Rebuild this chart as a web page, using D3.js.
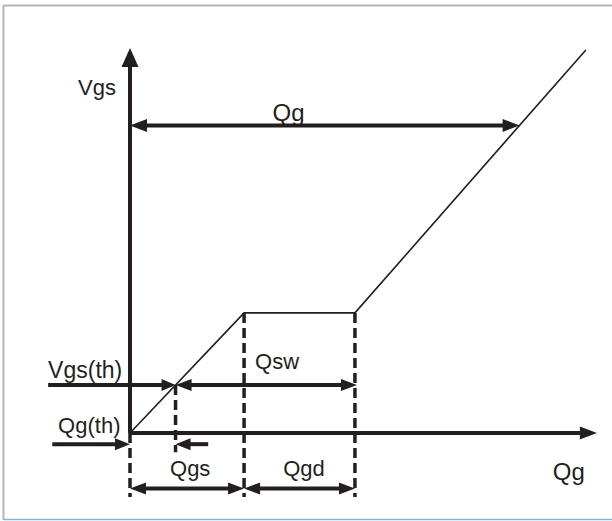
<!DOCTYPE html>
<html>
<head>
<meta charset="utf-8">
<script src="https://cdn.jsdelivr.net/npm/d3@7"></script>
<style>
  html, body { margin: 0; padding: 0; background: #fff; }
  svg { display: block; }
  text { font-family: "Liberation Sans", Arial, sans-serif; fill: #231f20; }
</style>
</head>
<body>
<script>
// ---- Data (charge units along Qg, voltage units along Vgs) ----
const curveQ = [0, 24.8, 48.9, 99.1];      // gate charge breakpoints
const curveV = [0, 3.12, 3.12, 9.95];      // gate-source voltage at breakpoints
const qTh = 9.9;                            // Qg(th)
const vTh = 1.25;                           // Vgs(th)
const qPlateauStart = 24.8;                 // end of Qgs
const qPlateauEnd = 48.9;                   // end of Qgd
const qTotal = 84.7;                        // Qg total
const vTotal = 7.99;                        // level of Qg arrow
const axisMaxQ = 101.5;
const axisMaxV = 10;
const vQgthArrow = -0.29;                   // level of Qg(th) pointer
const vBottomArrows = -1.44;                // level of Qgs / Qgd arrows
const vDashEnd = -1.66;                     // lower end of dashed guides
const vThDashEnd = -0.5;                    // lower end of Qg(th) guide
const qLeftStart = -17.8;                   // left start of pointer lines
const qSmallArrowStart = 17;                // start of small left pointer
const labels = ["Vgs", "Qg", "Vgs(th)", "Qg(th)", "Qsw", "Qgs", "Qgd", "Qg"];

const W = 612, H = 521;
const ink = "#231f20";

const svg = d3.select("body").append("svg").attr("width", W).attr("height", H);

const x = d3.scaleLinear().domain([0, 100]).range([130, 590]);
const y = d3.scaleLinear().domain([0, 10]).range([433, 48]);

// frame
svg.append("line").attr("x1", 3).attr("x2", W).attr("y1", 5.5).attr("y2", 5.5)
  .attr("stroke", "#b3b3b3").attr("stroke-width", 2);
svg.append("line").attr("x1", 3.5).attr("x2", 3.5).attr("y1", 5).attr("y2", 520)
  .attr("stroke", "#b3b3b3").attr("stroke-width", 2);
svg.append("line").attr("x1", 4).attr("x2", W).attr("y1", 519.5).attr("y2", 519.5)
  .attr("stroke", "#7dbad8").attr("stroke-width", 1.6);

const g = svg.append("g");

function head(tx, ty, dx, dy, len, wid) {
  const n = Math.hypot(dx, dy); const ux = dx / n, uy = dy / n;
  const bx = tx - ux * len, by = ty - uy * len;
  const px = -uy * wid / 2, py = ux * wid / 2;
  g.append("path")
    .attr("d", `M${tx},${ty}L${bx + px},${by + py}L${bx - px},${by - py}Z`)
    .attr("fill", ink);
}
function arrow(x1, y1, x2, y2, opts) {
  const o = Object.assign({ start: false, end: true, len: 16, wid: 13, sw: 4 }, opts || {});
  const dx = x2 - x1, dy = y2 - y1, n = Math.hypot(dx, dy);
  const ux = dx / n, uy = dy / n;
  const sx = o.start ? x1 + ux * o.len * 0.8 : x1, sy = o.start ? y1 + uy * o.len * 0.8 : y1;
  const ex = o.end ? x2 - ux * o.len * 0.8 : x2, ey = o.end ? y2 - uy * o.len * 0.8 : y2;
  g.append("line").attr("x1", sx).attr("y1", sy).attr("x2", ex).attr("y2", ey)
    .attr("stroke", ink).attr("stroke-width", o.sw);
  if (o.end) head(x2, y2, dx, dy, o.len, o.wid);
  if (o.start) head(x1, y1, -dx, -dy, o.len, o.wid);
}
function dashed(q, v1, v2) {
  g.append("line").attr("x1", x(q)).attr("x2", x(q)).attr("y1", y(v1)).attr("y2", y(v2))
    .attr("stroke", ink).attr("stroke-width", 3.5).attr("stroke-dasharray", "10,5");
}

// dashed guides
dashed(0, 0, vDashEnd);
dashed(qTh, vTh, vThDashEnd);
dashed(qPlateauStart, curveV[1], vDashEnd);
dashed(qPlateauEnd, curveV[2], vDashEnd);

// axes
arrow(x(0), y(0), x(0), y(axisMaxV), { len: 19, wid: 17 });
arrow(x(0), y(0), x(axisMaxQ), y(0), { len: 17, wid: 13 });

// Vgs curve
const curve = curveQ.map((q, i) => [q, curveV[i]]);
g.append("path").datum(curve)
  .attr("d", d3.line().x(d => x(d[0])).y(d => y(d[1])))
  .attr("fill", "none").attr("stroke", ink).attr("stroke-width", 1.6);

// Qg total arrow
arrow(x(0), y(vTotal), x(qTotal), y(vTotal), { start: true, len: 17, wid: 13 });
// Vgs(th) pointer
arrow(x(qLeftStart), y(vTh), x(qTh), y(vTh), { len: 14, wid: 12 });
// Qsw double arrow
arrow(x(qTh), y(vTh), x(qPlateauEnd) + 2, y(vTh), { start: true, len: 16, wid: 12 });
// Qg(th) pointer
arrow(x(qLeftStart + 0.9), y(vQgthArrow), x(0), y(vQgthArrow), { len: 15, wid: 12 });
// small left pointer at Qg(th)
arrow(x(qSmallArrowStart), y(vQgthArrow), x(qTh), y(vQgthArrow), { len: 15, wid: 12 });
// Qgs, Qgd double arrows
arrow(x(0), y(vBottomArrows), x(qPlateauStart), y(vBottomArrows), { start: true, len: 16, wid: 12 });
arrow(x(qPlateauStart), y(vBottomArrows), x(qPlateauEnd), y(vBottomArrows), { start: true, len: 16, wid: 12 });

// labels
function label(t, px, py, size) {
  svg.append("text").attr("x", px).attr("y", py).attr("font-size", size).text(t);
}
label(labels[0], x(0) - 52, y(axisMaxV) + 47, 22);
label(labels[1], x(31), y(vTotal) - 4, 24);
label(labels[2], x(qLeftStart), y(vTh) - 7, 23);
label(labels[3], x(qLeftStart) + 10, y(0), 22);
label(labels[4], x(27.2), y(vTh) - 16, 22);
label(labels[5], x(8.7), y(vBottomArrows) - 12, 22);
label(labels[6], x(33.3), y(vBottomArrows) - 12, 22);
label(labels[7], x(91.9), y(vBottomArrows) - 8, 24);
</script>
</body>
</html>
